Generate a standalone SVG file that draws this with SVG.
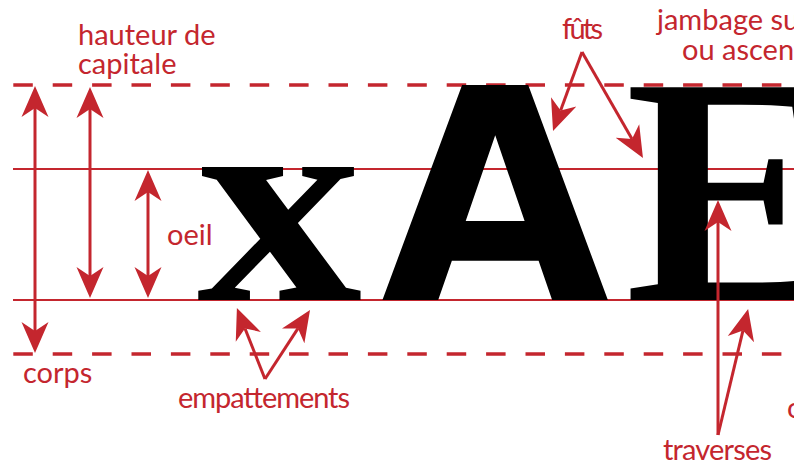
<svg xmlns="http://www.w3.org/2000/svg" width="794" height="470" viewBox="0 0 794 470">
<defs>
<style>
.guide{stroke:#c4262e;stroke-width:2;fill:none}
.dash{stroke:#c4262e;stroke-width:3.5;fill:none;stroke-dasharray:19.5 19.9}
.arr{stroke:#c4262e;stroke-width:3;fill:none}
.lbl{font-family:Lato,"Open Sans",sans-serif;font-size:29px;fill:#c4262e}
.serif{font-family:"Liberation Serif","Times New Roman",serif;font-weight:bold;fill:#000}
.sans{font-family:"DejaVu Sans","Liberation Sans",sans-serif;font-weight:bold;fill:#000}
</style>
<marker id="ah" viewBox="0 -14 31 28" refX="9" refY="0" markerWidth="31" markerHeight="28" markerUnits="userSpaceOnUse" orient="auto-start-reverse">
<path d="M31,0 L0,-13.5 L9,0 L0,13.5 Z" fill="#c4262e"/>
</marker>
</defs>
<rect width="794" height="470" fill="#fff"/>
<g id="guides">
<line class="dash" x1="13.3" y1="85" x2="794" y2="85"/>
<line class="guide" x1="13" y1="169" x2="794" y2="169"/>
<line class="guide" x1="13" y1="300" x2="794" y2="300"/>
<line class="dash" x1="13.3" y1="354" x2="794" y2="354"/>
</g>
<g id="glyph-x"><text class="serif" transform="translate(197,300) scale(1.14,1)" font-size="290">x</text></g>
<g id="glyph-A"><text class="sans" x="381" y="300" font-size="295">A</text></g>
<g id="glyph-E"><text class="serif" x="625" y="300" font-size="325">E</text></g>
<g id="connectors">
<line class="arr" x1="35" y1="108" x2="35" y2="331" marker-start="url(#ah)" marker-end="url(#ah)"/>
<line class="arr" x1="90" y1="109" x2="90" y2="276" marker-start="url(#ah)" marker-end="url(#ah)"/>
<line class="arr" x1="148" y1="192" x2="148" y2="276" marker-start="url(#ah)" marker-end="url(#ah)"/>
<line class="arr" x1="582" y1="52" x2="560.6" y2="110.4" marker-end="url(#ah)"/>
<line class="arr" x1="582" y1="52" x2="632" y2="138.9" marker-end="url(#ah)"/>
<line class="arr" x1="265" y1="379" x2="245" y2="328.5" marker-end="url(#ah)"/>
<line class="arr" x1="265" y1="379" x2="298" y2="328.4" marker-end="url(#ah)"/>
<line class="arr" x1="718" y1="435" x2="718" y2="222" marker-end="url(#ah)"/>
<line class="arr" x1="718" y1="435" x2="743" y2="330.4" marker-end="url(#ah)"/>
</g>
<g id="label-hauteur"><text class="lbl" x="78" y="45">hauteur de</text><text class="lbl" x="78" y="74">capitale</text></g>
<g id="label-futs"><text class="lbl" x="562" y="39" textLength="41">fûts</text></g>
<g id="label-jambage"><text class="lbl" x="657" y="30">jambage su</text><text class="lbl" x="682" y="60">ou ascen</text></g>
<g id="label-oeil"><text class="lbl" x="167" y="245">oeil</text></g>
<g id="label-corps"><text class="lbl" x="23" y="383">corps</text></g>
<g id="label-empattements"><text class="lbl" x="178" y="408" textLength="172">empattements</text></g>
<g id="label-traverses"><text class="lbl" x="663" y="460" textLength="109">traverses</text></g>
<g id="label-partial"><text class="lbl" x="787" y="418">o</text></g>
</svg>
